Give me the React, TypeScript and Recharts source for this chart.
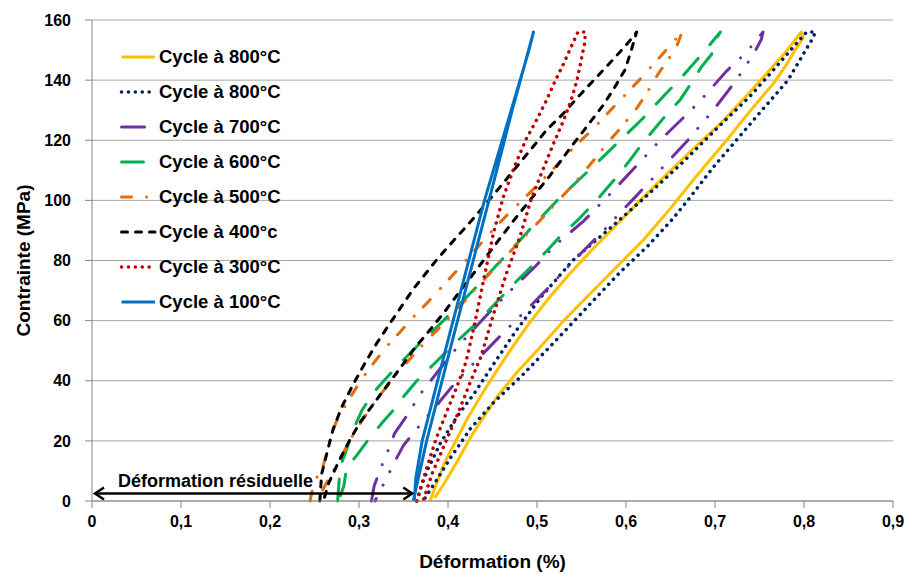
import React from 'react';
import { LineChart, Line, XAxis, YAxis, CartesianGrid, ReferenceLine, Legend } from 'recharts';

type Pt = [number, number];

// [déformation %, contrainte MPa] — each cycle goes up one branch and back down the other
const cycle800a: Pt[] = [
  [0.380, 0], [0.386, 5], [0.395, 12], [0.407, 19], [0.421, 27], [0.437, 35], [0.454, 43],
  [0.472, 51], [0.491, 59], [0.512, 67], [0.535, 75], [0.560, 83], [0.588, 91.5], [0.616, 100],
  [0.645, 108.5], [0.675, 117], [0.706, 125.5], [0.733, 134], [0.756, 141.5], [0.777, 148.5],
  [0.797, 156], [0.799, 154], [0.790, 150], [0.781, 145.5], [0.766, 139], [0.743, 131],
  [0.713, 120], [0.679, 108], [0.649, 97], [0.620, 87], [0.590, 78], [0.560, 69], [0.530, 60],
  [0.503, 51], [0.478, 43], [0.456, 35], [0.440, 28], [0.425, 21], [0.410, 13], [0.396, 6],
  [0.385, 1],
];

const cycle800b: Pt[] = [
  [0.365, 0], [0.370, 5], [0.378, 11], [0.391, 19], [0.410, 28], [0.430, 36], [0.450, 45],
  [0.475, 56], [0.505, 68], [0.540, 80], [0.585, 91.5], [0.625, 102], [0.665, 113], [0.704, 124.5],
  [0.739, 134.5], [0.769, 144.5], [0.788, 151], [0.803, 156], [0.813, 156], [0.808, 153],
  [0.796, 147], [0.782, 140], [0.766, 134.5], [0.747, 128], [0.724, 120], [0.698, 111],
  [0.672, 101], [0.653, 94], [0.625, 85], [0.593, 76], [0.558, 65], [0.520, 53], [0.484, 42],
  [0.452, 33], [0.425, 24], [0.402, 14], [0.383, 5], [0.372, 0],
];

const cycle700: Pt[] = [
  [0.314, 0], [0.317, 5], [0.322, 9], [0.328, 13.5], [0.333, 17], [0.340, 22.5], [0.354, 28.5],
  [0.370, 36], [0.391, 44], [0.410, 51], [0.430, 57.5], [0.452, 64.5], [0.477, 72], [0.498, 78],
  [0.520, 85], [0.552, 93], [0.585, 103], [0.618, 113.5], [0.640, 120.5], [0.661, 126.5],
  [0.683, 133], [0.713, 143], [0.736, 149.5], [0.754, 156], [0.752, 153.5], [0.743, 148.5],
  [0.734, 144.5], [0.725, 140.5], [0.715, 136.5], [0.698, 130], [0.688, 126.5], [0.668, 119.5],
  [0.649, 113.5], [0.629, 107], [0.610, 101], [0.597, 97], [0.575, 90], [0.543, 80.5], [0.513, 71],
  [0.488, 63.5], [0.464, 56.5], [0.436, 48], [0.410, 40], [0.385, 31], [0.365, 24], [0.350, 18.5],
  [0.340, 13], [0.330, 7], [0.318, 0],
];

const cycle600: Pt[] = [
  [0.276, 0], [0.278, 8], [0.281, 13], [0.287, 18], [0.294, 24], [0.303, 30], [0.316, 36],
  [0.331, 41], [0.350, 47], [0.372, 53.5], [0.395, 60], [0.415, 66], [0.436, 72.5], [0.458, 79.5],
  [0.477, 85.5], [0.494, 91], [0.526, 101], [0.562, 111], [0.597, 121], [0.618, 127], [0.640, 134],
  [0.661, 140.5], [0.679, 146.5], [0.692, 151], [0.706, 156], [0.702, 154], [0.696, 148.5],
  [0.685, 144.5], [0.670, 137.5], [0.661, 133.5], [0.644, 128], [0.634, 124.5], [0.616, 118],
  [0.606, 114], [0.593, 109], [0.570, 101], [0.546, 93.5], [0.526, 88], [0.512, 83.5],
  [0.492, 77.5], [0.470, 71], [0.451, 65], [0.428, 58], [0.406, 52], [0.384, 45.5], [0.365, 40],
  [0.348, 34], [0.338, 30], [0.326, 26], [0.312, 21], [0.297, 15], [0.286, 11], [0.283, 5],
  [0.277, 0],
];

const cycle500: Pt[] = [
  [0.245, 0], [0.247, 3], [0.252, 7.5], [0.260, 12], [0.265, 17], [0.268, 21], [0.274, 26],
  [0.287, 33], [0.303, 40.5], [0.318, 46.5], [0.333, 52], [0.347, 56.5], [0.362, 61.5], [0.377, 66],
  [0.394, 71.5], [0.411, 77], [0.432, 84], [0.453, 91], [0.471, 96.5], [0.490, 102], [0.520, 111],
  [0.546, 119], [0.562, 123.5], [0.589, 132], [0.618, 141], [0.645, 150], [0.663, 156],
  [0.658, 152], [0.650, 148], [0.636, 142], [0.625, 136.5], [0.613, 131], [0.598, 125.5],
  [0.582, 120], [0.560, 112], [0.540, 105], [0.518, 98], [0.496, 91], [0.470, 83], [0.440, 73.5],
  [0.408, 63], [0.375, 53], [0.344, 43], [0.318, 33], [0.297, 24], [0.284, 17], [0.271, 10],
  [0.258, 3], [0.250, 0],
];

const cycle400: Pt[] = [
  [0.256, 0], [0.258, 9], [0.264, 16], [0.271, 24], [0.281, 31.5], [0.293, 38.5], [0.306, 45.5],
  [0.320, 52.5], [0.338, 60.5], [0.361, 70.5], [0.388, 80.5], [0.412, 88.5], [0.433, 95.5],
  [0.460, 105], [0.496, 118], [0.511, 123.5], [0.530, 129], [0.548, 135], [0.567, 141],
  [0.586, 147], [0.604, 153], [0.612, 156], [0.606, 150], [0.599, 143.5], [0.586, 137],
  [0.574, 131.5], [0.561, 126.5], [0.548, 121.5], [0.535, 116.5], [0.514, 108], [0.492, 100],
  [0.473, 93], [0.455, 86], [0.436, 78.5], [0.414, 70], [0.395, 62.5], [0.380, 57], [0.363, 51],
  [0.347, 44.5], [0.333, 39], [0.318, 33], [0.302, 26.5], [0.290, 20.5], [0.277, 13], [0.266, 6],
  [0.260, 0],
];

const cycle300: Pt[] = [
  [0.365, 0], [0.375, 10], [0.387, 21], [0.399, 30], [0.410, 38], [0.420, 46], [0.430, 59],
  [0.441, 75], [0.451, 89], [0.462, 101], [0.475, 111.5], [0.488, 120.5], [0.500, 127],
  [0.511, 133.5], [0.520, 139.5], [0.530, 145.5], [0.539, 151.5], [0.546, 156], [0.554, 156],
  [0.554, 153], [0.550, 147], [0.545, 140], [0.538, 133], [0.529, 126], [0.518, 118.5],
  [0.505, 109], [0.493, 100], [0.481, 88], [0.466, 76], [0.451, 62], [0.437, 48], [0.425, 39.5],
  [0.411, 29], [0.395, 18], [0.382, 9], [0.372, 0],
];

const cycle100: Pt[] = [
  [0.361, 0], [0.376, 20], [0.389, 35], [0.402, 50], [0.416, 66], [0.431, 83], [0.446, 100],
  [0.460, 116], [0.473, 131], [0.486, 145], [0.496, 156], [0.491, 150], [0.476, 135],
  [0.459, 118], [0.441, 100], [0.426, 83], [0.411, 66], [0.397, 50], [0.384, 35], [0.371, 20],
  [0.364, 8], [0.362, 0],
];

const xTicks = [0, 0.1, 0.2, 0.3, 0.4, 0.5, 0.6, 0.7, 0.8, 0.9];
const yTicks = [0, 20, 40, 60, 80, 100, 120, 140, 160];
const residualStrain = 0.361;

const FONT = '"Liberation Sans", Arial, sans-serif';

const series = [
  { key: 'c800a', name: 'Cycle à 800°C', points: cycle800a, color: '#FFC000', width: 3, dash: undefined, cap: 'butt' },
  { key: 'c800b', name: 'Cycle à 800°C', points: cycle800b, color: '#002060', width: 3.5, dash: '0.1 6.8', cap: 'round' },
  { key: 'c700', name: 'Cycle à 700°C', points: cycle700, color: '#7030A0', width: 3, dash: '23 15 0.1 15 0.1 15', cap: 'round' },
  { key: 'c600', name: 'Cycle à 600°C', points: cycle600, color: '#00B050', width: 3, dash: '22 18', cap: 'round' },
  { key: 'c500', name: 'Cycle à 500°C', points: cycle500, color: '#E46C0A', width: 3, dash: '10 15 0.1 13', cap: 'round' },
  { key: 'c400', name: 'Cycle à 400°c', points: cycle400, color: '#000000', width: 3, dash: '6 8', cap: 'round' },
  { key: 'c300', name: 'Cycle à 300°C', points: cycle300, color: '#C00000', width: 3.5, dash: '0.1 6.8', cap: 'round' },
  { key: 'c100', name: 'Cycle à 100°C', points: cycle100, color: '#0070C0', width: 3, dash: undefined, cap: 'butt' },
];

const toRows = (pts: Pt[]) => pts.map(([x, y]) => ({ x, y }));

const formatX = (v: number) => String(Number(v.toFixed(1))).replace('.', ',');

const LegendContent = () => (
  <div style={{ fontFamily: FONT, fontWeight: 700, fontSize: 18.5, color: '#000' }}>
    {series.map((s) => (
      <div key={s.key} style={{ display: 'flex', alignItems: 'center', height: 34.9 }}>
        <svg width={41} height={12} style={{ display: 'block' }}>
          <line
            x1={3.5}
            x2={37}
            y1={6}
            y2={6}
            stroke={s.color}
            strokeWidth={s.width}
            strokeDasharray={s.dash}
            strokeLinecap={s.cap as any}
          />
        </svg>
        <span style={{ whiteSpace: 'nowrap' }}>{s.name}</span>
      </div>
    ))}
  </div>
);

const ResidualArrow = (props: any) => {
  const { x1, y1, x2 } = props;
  const a = x1 + 3;
  const b = x2 - 1;
  return (
    <g>
      <line x1={a} y1={y1} x2={b} y2={y1} stroke="#000" strokeWidth={2.5} />
      <polyline points={`${a + 9},${y1 - 6} ${a},${y1} ${a + 9},${y1 + 6}`} fill="none" stroke="#000" strokeWidth={2.5} />
      <polyline points={`${b - 9},${y1 - 6} ${b},${y1} ${b - 9},${y1 + 6}`} fill="none" stroke="#000" strokeWidth={2.5} />
      <text x={x1 + 26} y={y1 - 6} fontFamily={FONT} fontWeight={700} fontSize={18} fill="#000">
        Déformation résiduelle
      </text>
    </g>
  );
};

const XTitle = (props: any) => {
  const { x, y, width, height } = props.viewBox;
  return (
    <text x={x + width / 2} y={y + height - 6} textAnchor="middle" fontFamily={FONT} fontWeight={700} fontSize={19} fill="#000">
      Déformation (%)
    </text>
  );
};

const YTitle = (props: any) => {
  const { y, height } = props.viewBox;
  const cx = 23;
  const cy = y + height / 2;
  return (
    <text
      x={cx}
      y={cy}
      transform={`rotate(-90 ${cx} ${cy})`}
      textAnchor="middle"
      dominantBaseline="central"
      fontFamily={FONT}
      fontWeight={700}
      fontSize={19}
      fill="#000"
    >
      Contrainte (MPa)
    </text>
  );
};

const tickStyle = { fill: '#000', fontSize: 16, fontWeight: 700, fontFamily: FONT };

export default function App() {
  return (
    <div style={{ position: 'absolute', left: 0, top: 0, width: 911, height: 574, background: '#fff' }}>
      <LineChart width={911} height={574} margin={{ top: 20, right: 18, bottom: 0, left: 0 }}>
        <CartesianGrid vertical={false} stroke="#A6A6A6" />
        <XAxis
          dataKey="x"
          type="number"
          domain={[0, 0.9]}
          ticks={xTicks}
          interval={0}
          height={73}
          tickSize={7}
          tickMargin={8}
          tickFormatter={formatX}
          tick={tickStyle}
          axisLine={{ stroke: '#868686' }}
          tickLine={{ stroke: '#868686' }}
          label={XTitle}
        />
        <YAxis
          type="number"
          domain={[0, 160]}
          ticks={yTicks}
          interval={0}
          width={92}
          tickSize={7}
          tickMargin={14}
          tick={tickStyle}
          axisLine={{ stroke: '#868686' }}
          tickLine={{ stroke: '#868686' }}
          label={YTitle}
        />
        <Legend
          layout="vertical"
          align="center"
          verticalAlign="middle"
          content={LegendContent}
          wrapperStyle={{ left: 118, top: 40, width: 'auto', height: 'auto' }}
        />
        {series.map((s) => (
          <Line
            key={s.key}
            name={s.name}
            data={toRows(s.points)}
            dataKey="y"
            type="linear"
            stroke={s.color}
            strokeWidth={s.width}
            strokeDasharray={s.dash}
            strokeLinecap={s.cap as any}
            strokeLinejoin="round"
            dot={false}
            activeDot={false}
            isAnimationActive={false}
          />
        ))}
        <ReferenceLine
          segment={[{ x: 0, y: 2.5 }, { x: residualStrain, y: 2.5 }]}
          shape={ResidualArrow}
        />
      </LineChart>
    </div>
  );
}
